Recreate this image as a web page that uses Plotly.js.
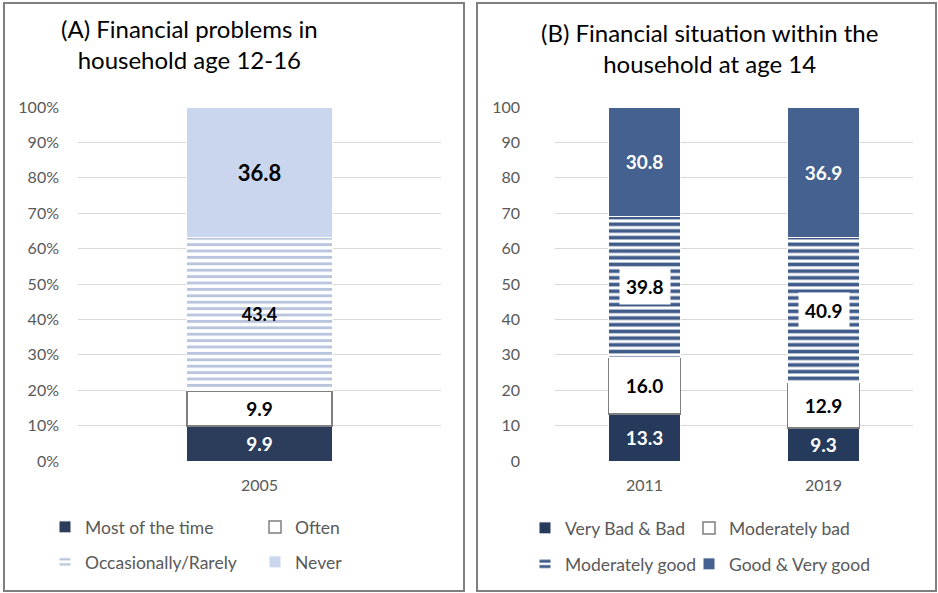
<!DOCTYPE html>
<html>
<head>
<meta charset="utf-8">
<script src="https://cdn.plot.ly/plotly-3.0.1.min.js"></script>
<style>html,body{margin:0;padding:0;background:#fff}#chart{width:938px;height:593px}</style>
</head>
<body>
<div id="chart"></div>
<script>
// ---- Data ----
const catsA = ['2005'];
const seriesA = ['Most of the time', 'Often', 'Occasionally/Rarely', 'Never'];
const mostOfTime = [9.9];
const often = [9.9];
const occasionally = [43.4];
const never = [36.8];

const catsB = ['2011', '2019'];
const seriesB = ['Very Bad & Bad', 'Moderately bad', 'Moderately good', 'Good & Very good'];
const veryBad = [13.3, 9.3];
const modBad = [16.0, 12.9];
const modGood = [39.8, 40.9];
const goodVeryGood = [30.8, 36.9];

const yTicksA = [0,10,20,30,40,50,60,70,80,90,100];
const yTickTextA = ['0%','10%','20%','30%','40%','50%','60%','70%','80%','90%','100%'];
const yTicksB = [0,10,20,30,40,50,60,70,80,90,100];

// ---- Helpers ----
const W = 938, H = 593;
const px = x => x / W;
const py = y => 1 - y / H;
const FONT = 'Lato, "Open Sans", sans-serif';
const GREY = '#595959';
const lbl = (size, color) => ({family: FONT, size: size, color: color, weight: 'bold'});

function bar(name, x, y, xa, ya, legend, marker, tf, showText) {
  return {
    type: 'bar', name: name, x: x.slice(), y: y.slice(), xaxis: xa, yaxis: ya, legend: legend,
    showlegend: true, marker: marker,
    text: showText ? y.map(v => v.toFixed(1)) : undefined,
    textposition: showText ? 'inside' : 'none',
    insidetextanchor: 'middle', textangle: 0, constraintext: 'none',
    textfont: tf, hoverinfo: 'name+y'
  };
}

const traces = [
  bar(seriesA[0], catsA, mostOfTime, 'x', 'y', 'legend',
      {color: '#2B3D5B', line: {color: '#ffffff', width: 1}}, lbl(19, '#ffffff'), true),
  bar(seriesA[1], catsA, often, 'x', 'y', 'legend2',
      {color: '#ffffff', line: {color: '#7F7F7F', width: 1.5}}, lbl(19, '#000000'), true),
  bar(seriesA[2], catsA, occasionally, 'x', 'y', 'legend3',
      {color: '#ffffff', line: {color: '#ffffff', width: 1},
       pattern: {shape: '-', fgcolor: '#B9C5DD', bgcolor: '#ffffff', size: 6.4, solidity: 0.45, fillmode: 'replace'}},
      lbl(18, '#000000'), true),
  bar(seriesA[3], catsA, never, 'x', 'y', 'legend4',
      {color: '#C9D6EE', line: {color: '#ffffff', width: 1}}, lbl(22, '#000000'), true),

  bar(seriesB[0], catsB, veryBad, 'x2', 'y2', 'legend5',
      {color: '#263A5C', line: {color: '#ffffff', width: 1}}, lbl(19, '#ffffff'), true),
  bar(seriesB[1], catsB, modBad, 'x2', 'y2', 'legend6',
      {color: '#ffffff', line: {color: '#7F7F7F', width: 1.5}}, lbl(19, '#000000'), true),
  bar(seriesB[2], catsB, modGood, 'x2', 'y2', 'legend7',
      {color: '#ffffff', line: {color: '#ffffff', width: 1},
       pattern: {shape: '-', fgcolor: '#3F5B8A', bgcolor: '#ffffff', size: 6.7, solidity: 0.55, fillmode: 'replace'}},
      lbl(19, '#000000'), false),
  bar(seriesB[3], catsB, goodVeryGood, 'x2', 'y2', 'legend8',
      {color: '#44618F', line: {color: '#ffffff', width: 1}}, lbl(19, '#ffffff'), true)
];

// Boxed labels for "Moderately good" segments (x given as category index)
const boxAnn = catsB.map((c, i) => ({
  x: i, y: veryBad[i] + modBad[i] + modGood[i] / 2, xref: 'x2', yref: 'y2',
  text: modGood[i].toFixed(1), showarrow: false, bgcolor: '#ffffff', borderpad: 6,
  font: lbl(19, '#000000')
}));

const tickFont = {family: FONT, size: 16, color: GREY};
function leg(textX, rowY) {
  return {
    visible: true,
    orientation: 'h', xanchor: 'left', yanchor: 'middle', bgcolor: 'rgba(0,0,0,0)',
    x: px(textX - 40), y: py(rowY),
    font: {family: FONT, size: 17.5, color: GREY}, itemclick: false, itemdoubleclick: false
  };
}

const layout = {
  width: W, height: H,
  margin: {l: 0, r: 0, t: 0, b: 0},
  paper_bgcolor: '#ffffff', plot_bgcolor: '#ffffff',
  showlegend: true,
  barmode: 'stack', bargap: 0.6,
  font: {family: FONT, color: GREY},
  xaxis: {domain: [px(78), px(441)], anchor: 'y', type: 'category', tickfont: tickFont,
          showgrid: false, zeroline: false, showline: false, ticks: '', ticklabelstandoff: 13, fixedrange: true},
  yaxis: {domain: [py(461), py(107)], anchor: 'x', range: [0, 100], tickmode: 'array', tickvals: yTicksA,
          ticktext: yTickTextA,
          tickfont: tickFont, gridcolor: '#D9D9D9', gridwidth: 1, zeroline: false, showline: false,
          ticks: '', ticklabelstandoff: 18, fixedrange: true},
  xaxis2: {domain: [px(555), px(913)], anchor: 'y2', type: 'category', tickfont: tickFont,
           showgrid: false, zeroline: false, showline: false, ticks: '', ticklabelstandoff: 13, fixedrange: true},
  yaxis2: {domain: [py(461), py(107)], anchor: 'x2', range: [0, 100], tickmode: 'array', tickvals: yTicksB,
           tickfont: tickFont, gridcolor: '#D9D9D9', gridwidth: 1, zeroline: false, showline: false,
           ticks: '', ticklabelstandoff: 34, fixedrange: true},
  legend: leg(85, 527),
  legend2: leg(295, 527),
  legend3: leg(85, 562),
  legend4: leg(295, 562),
  legend5: leg(565, 528),
  legend6: leg(729, 528),
  legend7: leg(565, 564),
  legend8: leg(729, 564),
  shapes: [
    {type: 'rect', xref: 'paper', yref: 'paper', x0: px(4), x1: px(464), y0: py(591), y1: py(3),
     line: {color: '#7F7F7F', width: 2}, fillcolor: 'rgba(0,0,0,0)'},
    {type: 'rect', xref: 'paper', yref: 'paper', x0: px(477), x1: px(936), y0: py(591), y1: py(3),
     line: {color: '#7F7F7F', width: 2}, fillcolor: 'rgba(0,0,0,0)'}
  ],
  annotations: [
    {xref: 'paper', yref: 'paper', x: px(189), y: py(44), xanchor: 'center', yanchor: 'middle',
     text: '(A) Financial problems in<br>household age 12-16', showarrow: false, align: 'center',
     font: {family: FONT, size: 24, color: '#000000'}},
    {xref: 'paper', yref: 'paper', x: px(709), y: py(48), xanchor: 'center', yanchor: 'middle',
     text: '(B) Financial situation within the<br>household at age 14', showarrow: false, align: 'center',
     font: {family: FONT, size: 24, color: '#000000'}}
  ].concat(boxAnn)
};

Plotly.newPlot('chart', traces, layout, {displayModeBar: false, staticPlot: true});
</script>
</body>
</html>
